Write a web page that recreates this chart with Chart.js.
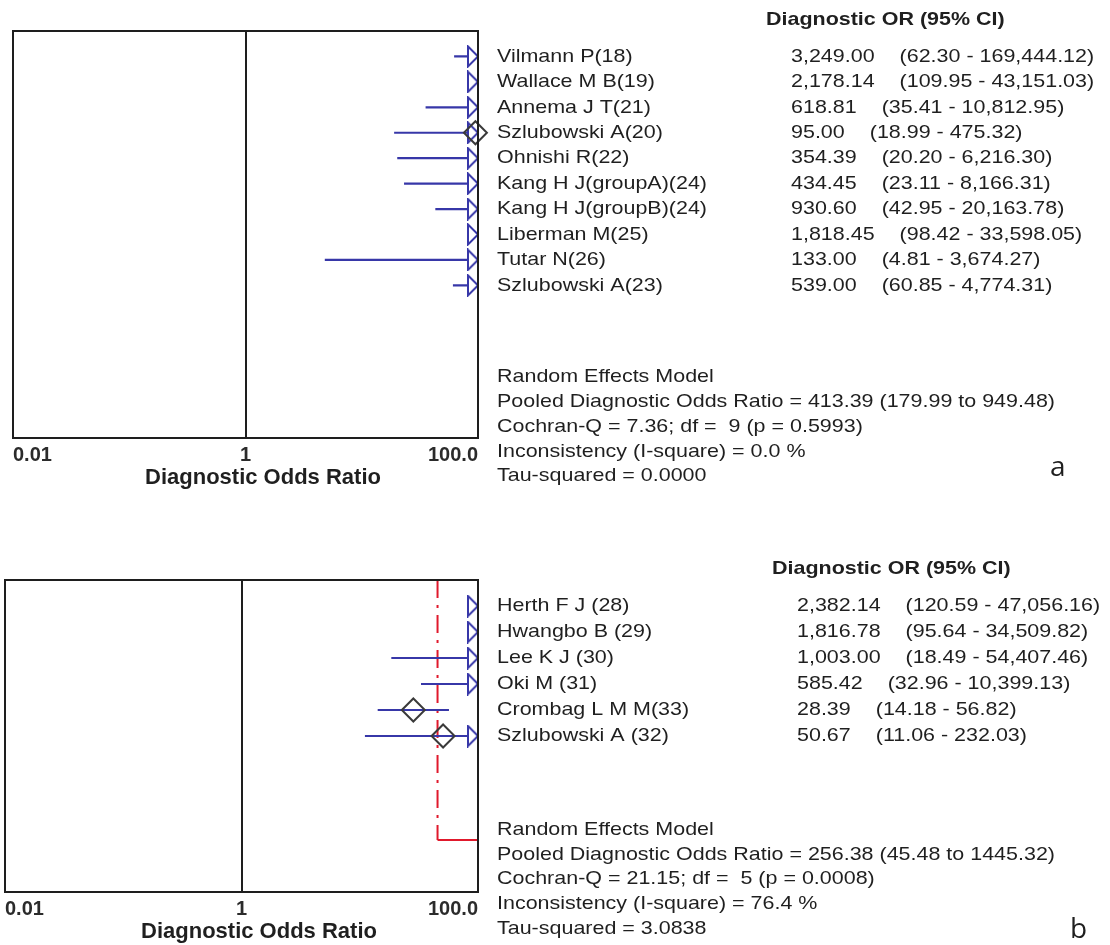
<!DOCTYPE html>
<html>
<head>
<meta charset="utf-8">
<script src="https://cdn.jsdelivr.net/npm/chart.js@4.4.1/dist/chart.umd.min.js"></script>
<style>
  html, body { margin: 0; padding: 0; background: #ffffff; }
  #wrap { position: relative; width: 1110px; height: 945px; overflow: hidden; }
  #wrap canvas { position: absolute; left: 0; }
</style>
</head>
<body>
<div id="wrap">
  <canvas id="chartA" style="top:0px; width:1110px; height:505px;"></canvas>
  <canvas id="chartB" style="top:525px; width:1110px; height:420px;"></canvas>
</div>
<script>
// ---- Panel a: studies, diagnostic odds ratios and 95% CI bounds ----
const studiesA = ['Vilmann P(18)', 'Wallace M B(19)', 'Annema J T(21)', 'Szlubowski A(20)', 'Ohnishi R(22)',
                  'Kang H J(groupA)(24)', 'Kang H J(groupB)(24)', 'Liberman M(25)', 'Tutar N(26)', 'Szlubowski A(23)'];
const orA = [3249.00, 2178.14, 618.81, 95.00, 354.39, 434.45, 930.60, 1818.45, 133.00, 539.00];
const lowA = [62.30, 109.95, 35.41, 18.99, 20.20, 23.11, 42.95, 98.42, 4.81, 60.85];
const highA = [169444.12, 43151.03, 10812.95, 475.32, 6216.30, 8166.31, 20163.78, 33598.05, 3674.27, 4774.31];
const pooledA = [413.39, 179.99, 949.48];
const statsA = ['Random Effects Model',
                'Pooled Diagnostic Odds Ratio = 413.39 (179.99 to 949.48)',
                'Cochran-Q = 7.36; df =  9 (p = 0.5993)',
                'Inconsistency (I-square) = 0.0 %',
                'Tau-squared = 0.0000'];

// ---- Panel b ----
const studiesB = ['Herth F J (28)', 'Hwangbo B (29)', 'Lee K J (30)', 'Oki M (31)', 'Crombag L M M(33)', 'Szlubowski A (32)'];
const orB = [2382.14, 1816.78, 1003.00, 585.42, 28.39, 50.67];
const lowB = [120.59, 95.64, 18.49, 32.96, 14.18, 11.06];
const highB = [47056.16, 34509.82, 54407.46, 10399.13, 56.82, 232.03];
const pooledB = [256.38, 45.48, 1445.32];
const statsB = ['Random Effects Model',
                'Pooled Diagnostic Odds Ratio = 256.38 (45.48 to 1445.32)',
                'Cochran-Q = 21.15; df =  5 (p = 0.0008)',
                'Inconsistency (I-square) = 76.4 %',
                'Tau-squared = 3.0838'];

// ---- shared axis ----
const tickValues = [0.01, 1, 100];
const tickLabels = ['0.01', '1', '100.0'];
const X_MIN = 0.01, X_MAX = 100;

const BLUE = '#3737a8';
const RED = '#e0192c';
const INK = '#1f1f1f';
const FONT = '"Liberation Sans", Arial, sans-serif';
const TEXT_STRETCH = 1.13;   // table text is set slightly wide

// right-pointing open arrow head; the tip sits at the image centre
function makeArrow() {
  const c = document.createElement('canvas');
  c.width = 24; c.height = 23;
  const g = c.getContext('2d');
  g.beginPath();
  g.moveTo(2, 1.5);
  g.lineTo(12, 11.5);
  g.lineTo(2, 21.5);
  g.closePath();
  g.fillStyle = '#ffffff';
  g.fill();
  g.lineWidth = 2;
  g.strokeStyle = BLUE;
  g.stroke();
  return c;
}
const arrowImg = makeArrow();

const fmt = v => v.toLocaleString('en-US', { minimumFractionDigits: 2, maximumFractionDigits: 2 });

// left-aligned text with horizontal stretch; returns drawn width
function wideText(ctx, str, x, y) {
  ctx.save();
  ctx.translate(x, y);
  ctx.scale(TEXT_STRETCH, 1);
  ctx.fillText(str, 0, 0);
  const w = ctx.measureText(str).width * TEXT_STRETCH;
  ctx.restore();
  return w;
}

function buildPanel(canvasId, p) {
  const n = p.names.length;
  const pooledRow = n + 4;
  const datasets = [];

  // pooled guide (dash-dot) and pooled interval
  datasets.push({
    type: 'line', data: [{ x: p.pooled[1], y: 0 }, { x: p.pooled[1], y: pooledRow }],
    borderColor: RED, borderWidth: 2, borderDash: [18, 7, 3, 7], pointRadius: 0, order: 5
  });
  datasets.push({
    type: 'line', data: [{ x: p.pooled[1], y: pooledRow }, { x: p.pooled[2], y: pooledRow }],
    borderColor: RED, borderWidth: 2, pointRadius: 0, order: 5
  });

  // confidence intervals
  p.low.forEach((lo, i) => {
    datasets.push({
      type: 'line', data: [{ x: lo, y: i + 1 }, { x: p.high[i], y: i + 1 }],
      borderColor: BLUE, borderWidth: 2.2, pointRadius: 0, order: 4
    });
  });

  // arrows where the interval runs past the axis maximum
  datasets.push({
    type: 'scatter',
    data: p.high.map((hi, i) => hi > X_MAX ? { x: Math.min(hi, X_MAX), y: i + 1 } : null).filter(Boolean),
    pointStyle: arrowImg, pointRadius: 10, order: 3
  });

  // point estimates inside the axis range
  datasets.push({
    type: 'scatter',
    data: p.or.map((v, i) => (v >= X_MIN && v <= X_MAX) ? { x: v, y: i + 1 } : null).filter(Boolean),
    pointStyle: 'rectRot', pointRadius: 11.5, borderColor: '#3a3a3a', backgroundColor: 'rgba(0,0,0,0)',
    borderWidth: 2, clip: false, order: 1
  });

  const textPlugin = {
    id: 'forestText',
    afterDraw(chart) {
      const ctx = chart.ctx;
      const area = chart.chartArea;
      const xs = chart.scales.x, ys = chart.scales.y;
      ctx.save();

      // frame and line of no effect
      ctx.strokeStyle = '#1e1e1e';
      ctx.lineWidth = 2;
      ctx.strokeRect(area.left, area.top, area.right - area.left, area.bottom - area.top);
      const x1 = Math.round(xs.getPixelForValue(1));
      ctx.beginPath();
      ctx.moveTo(x1, area.top);
      ctx.lineTo(x1, area.bottom);
      ctx.stroke();

      // tick labels
      ctx.fillStyle = '#2b2b2b';
      ctx.textBaseline = 'middle';
      ctx.font = 'bold 20px ' + FONT;
      tickValues.forEach((v, i) => {
        const px = xs.getPixelForValue(v);
        ctx.textAlign = i === 0 ? 'left' : (i === tickValues.length - 1 ? 'right' : 'center');
        ctx.fillText(tickLabels[i], px, area.bottom + 17);
      });
      ctx.fillStyle = INK;
      ctx.font = 'bold 22px ' + FONT;
      ctx.textAlign = 'center';
      ctx.fillText('Diagnostic Odds Ratio', x1 + 17, area.bottom + 40);

      // study table
      ctx.textAlign = 'left';
      ctx.font = 'bold 19px ' + FONT;
      wideText(ctx, 'Diagnostic OR (95% CI)', p.headerX, area.top - 11);
      ctx.font = '19px ' + FONT;
      p.names.forEach((name, i) => {
        const y = ys.getPixelForValue(i + 1);
        wideText(ctx, name, p.nameX, y);
        const w = wideText(ctx, fmt(p.or[i]), p.valueX, y);
        wideText(ctx, '(' + fmt(p.low[i]) + ' - ' + fmt(p.high[i]) + ')', p.valueX + w + 25, y);
      });

      // heterogeneity summary
      const y0 = ys.getPixelForValue(n + 3.6);
      p.stats.forEach((s, k) => wideText(ctx, s, p.nameX, y0 + k * 24.8));

      ctx.font = '28px "Open Sans", ' + FONT;
      ctx.fillText(p.letter, p.letterX, p.letterY);
      ctx.restore();
    }
  };

  return new Chart(document.getElementById(canvasId), {
    data: { datasets },
    options: {
      responsive: false,
      animation: false,
      events: [],
      layout: { padding: p.padding, autoPadding: false },
      plugins: { legend: { display: false }, tooltip: { enabled: false } },
      scales: {
        x: {
          type: 'logarithmic', min: X_MIN, max: X_MAX, display: false,
          afterBuildTicks: s => { s.ticks = tickValues.map(v => ({ value: v })); }
        },
        y: { type: 'linear', min: 0, max: p.rows, reverse: true, display: false }
      }
    },
    plugins: [textPlugin]
  });
}

function sizeCanvas(id, h) {
  const c = document.getElementById(id);
  c.width = 1110; c.height = h;
}
sizeCanvas('chartA', 505);
sizeCanvas('chartB', 420);

buildPanel('chartA', {
  names: studiesA, or: orA, low: lowA, high: highA, pooled: pooledA, stats: statsA,
  rows: 16, nameX: 497, valueX: 791, headerX: 766, letter: 'a', letterX: 1050, letterY: 468,
  padding: { left: 13, top: 31, right: 632, bottom: 67 }
});
buildPanel('chartB', {
  names: studiesB, or: orB, low: lowB, high: highB, pooled: pooledB, stats: statsB,
  rows: 12, nameX: 497, valueX: 797, headerX: 772, letter: 'b', letterX: 1070, letterY: 405,
  padding: { left: 5, top: 55, right: 632, bottom: 53 }
});
</script>
</body>
</html>
